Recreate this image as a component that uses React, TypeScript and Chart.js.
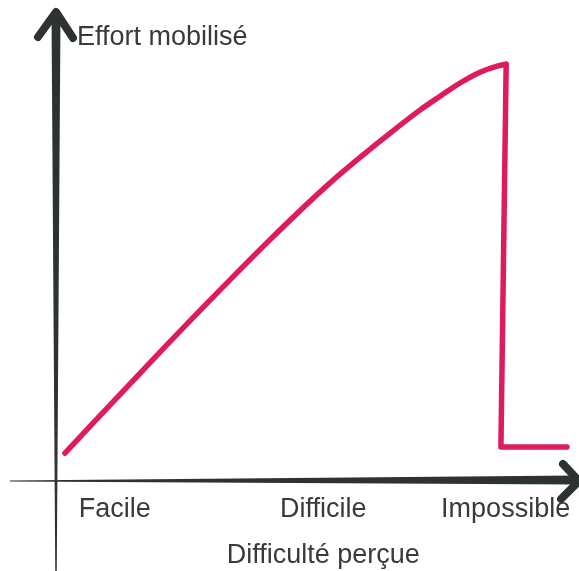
import React, { useEffect, useRef } from "react";
import { Chart, registerables } from "chart.js";

Chart.register(...registerables);

// Curve: perceived difficulty (x) vs effort (y)
const effortX = [1.9, 18.1, 29.6, 41.0, 52.5, 63.0, 69.7, 73.5, 77.3, 81.1, 84.4, 86.1];
const effortY = [5.9, 25.1, 38.4, 51.2, 63.3, 73.0, 78.8, 81.7, 84.5, 86.8, 88.1, 88.5];
// Drop when the task becomes impossible
const dropX = [86.1, 85.1, 97.7];
const dropY = [88.5, 7.2, 7.2];

const tickValues = [11.4, 51.2, 86.0];
const tickLabels = ["Facile", "Difficile", "Impossible"];
const xTitle = "Difficulté perçue";
const yTitle = "Effort mobilisé";

const LINE_COLOR = "#DE1B5F";
const AXIS_COLOR = "#2C3332";
const TEXT_COLOR = "#3A3A3A";
const FONT = '27px "Liberation Sans", Arial, sans-serif';

function taper(ctx: CanvasRenderingContext2D, x0: number, y0: number, w0: number, x1: number, y1: number, w1: number) {
  const dx = x1 - x0;
  const dy = y1 - y0;
  const len = Math.hypot(dx, dy);
  const nx = -dy / len;
  const ny = dx / len;
  ctx.beginPath();
  ctx.moveTo(x0 + nx * w0 / 2, y0 + ny * w0 / 2);
  ctx.lineTo(x1 + nx * w1 / 2, y1 + ny * w1 / 2);
  ctx.lineTo(x1 - nx * w1 / 2, y1 - ny * w1 / 2);
  ctx.lineTo(x0 - nx * w0 / 2, y0 - ny * w0 / 2);
  ctx.closePath();
  ctx.fill();
}

const axesPlugin = {
  id: "handAxes",
  beforeDatasetsDraw(chart: any) {
    const ctx: CanvasRenderingContext2D = chart.ctx;
    const xs = chart.scales.x;
    const ys = chart.scales.y;
    const ox = xs.getPixelForValue(0) + 1;
    const oy = ys.getPixelForValue(0);
    const top = ys.getPixelForValue(100);
    const right = xs.getPixelForValue(100);
    ctx.save();
    ctx.fillStyle = AXIS_COLOR;
    ctx.strokeStyle = AXIS_COLOR;
    // vertical axis
    taper(ctx, ox, chart.height, 1.5, ox, top + 4, 9);
    // horizontal axis
    taper(ctx, 10, oy, 1, right - 2, oy - 1, 9);
    ctx.lineCap = "round";
    ctx.lineJoin = "round";
    ctx.lineWidth = 8;
    ctx.beginPath();
    ctx.moveTo(ox - 18, top + 27);
    ctx.lineTo(ox, top + 2);
    ctx.lineTo(ox + 17, top + 28);
    ctx.stroke();
    ctx.beginPath();
    ctx.moveTo(right - 16, oy - 17);
    ctx.lineTo(right, oy);
    ctx.lineTo(right - 18, oy + 18);
    ctx.stroke();
    ctx.restore();
  },
  afterDraw(chart: any) {
    const ctx: CanvasRenderingContext2D = chart.ctx;
    const xs = chart.scales.x;
    const ys = chart.scales.y;
    const oy = ys.getPixelForValue(0);
    ctx.save();
    ctx.fillStyle = TEXT_COLOR;
    ctx.font = FONT;
    ctx.textBaseline = "alphabetic";
    ctx.textAlign = "center";
    tickValues.forEach((v, i) => {
      ctx.fillText(tickLabels[i], xs.getPixelForValue(v), oy + 36);
    });
    ctx.fillText(xTitle, xs.getPixelForValue(tickValues[1]), oy + 82);
    ctx.textAlign = "left";
    ctx.fillText(yTitle, xs.getPixelForValue(0) + 22, ys.getPixelForValue(100) + 35);
    ctx.restore();
  },
};

export default function App() {
  const ref = useRef<HTMLCanvasElement | null>(null);
  useEffect(() => {
    if (!ref.current) return;
    const common = {
      showLine: true,
      pointRadius: 0,
      pointHoverRadius: 0,
      borderColor: LINE_COLOR,
      borderWidth: 5.5,
      borderCapStyle: "round",
      borderJoinStyle: "round",
      clip: false,
    };
    const chart = new Chart(ref.current, {
      type: "scatter",
      data: {
        datasets: [
          { ...common, data: effortX.map((x, i) => ({ x, y: effortY[i] })), cubicInterpolationMode: "monotone", tension: 0.4 } as any,
          { ...common, data: dropX.map((x, i) => ({ x, y: dropY[i] })), tension: 0 } as any,
        ],
      },
      options: {
        animation: false,
        responsive: false,
        layout: { padding: { left: 55, right: 0, top: 10, bottom: 90 } },
        scales: {
          x: { type: "linear", min: 0, max: 100, display: false },
          y: { type: "linear", min: 0, max: 100, display: false },
        },
        plugins: { legend: { display: false }, tooltip: { enabled: false } },
      },
      plugins: [axesPlugin],
    });
    return () => chart.destroy();
  }, []);
  return (
    <div style={{ position: "absolute", left: 0, top: 0, width: 579, height: 571, background: "#fff" }}>
      <canvas ref={ref} width={579} height={571} style={{ display: "block" }} />
    </div>
  );
}
